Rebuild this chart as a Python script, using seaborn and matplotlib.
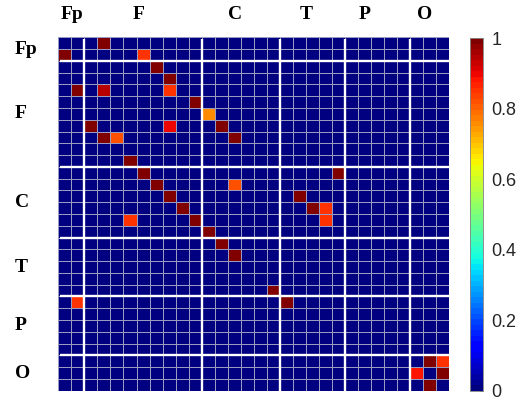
import numpy as np
import pandas as pd
import matplotlib
matplotlib.use("Agg")
import matplotlib.pyplot as plt
import seaborn as sns

# ---- data ----
groups = ["Fp", "F", "C", "T", "P", "O"]
group_sizes = [2, 9, 6, 5, 5, 3]
n = sum(group_sizes)

hot_rows = [0, 1, 1, 2, 3, 4, 4, 4, 5, 6, 7, 7, 7, 8, 8, 8, 10,
            11, 11, 12, 12, 13, 13, 14, 14, 14, 15, 15, 15, 16, 17, 18,
            21, 22, 22, 27, 27, 28, 28, 29]
hot_cols = [3, 0, 6, 7, 8, 1, 3, 8, 10, 11, 2, 8, 12, 3, 4, 13, 5,
            6, 21, 7, 13, 8, 18, 9, 19, 20, 5, 10, 20, 11, 12, 13,
            16, 1, 17, 28, 29, 27, 29, 28]
hot_vals = [1.0, 1.0, 0.845, 1.0, 1.0, 1.0, 0.95, 0.845, 1.0, 0.76, 1.0, 0.9, 1.0, 1.0, 0.815, 1.0, 1.0,
            1.0, 1.0, 1.0, 0.815, 1.0, 1.0, 1.0, 1.0, 0.845, 0.845, 1.0, 0.845, 1.0, 1.0, 1.0,
            1.0, 0.845, 1.0, 1.0, 0.845, 0.88, 1.0, 1.0]

cbar_ticks = [0, 0.2, 0.4, 0.6, 0.8, 1]
cbar_ticklabels = ["0", "0.2", "0.4", "0.6", "0.8", "1"]

M = np.zeros((n, n))
for r, c, v in zip(hot_rows, hot_cols, hot_vals):
    M[r, c] = v
df = pd.DataFrame(M)

# ---- figure ----
sns.set_style("white")
fig = plt.figure(figsize=(5.22, 4.03), dpi=100)
ax = fig.add_axes([58.3 / 522, 1 - 390.7 / 403, 391 / 522, 353.4 / 403])
cax = fig.add_axes([470.5 / 522, 1 - 390.7 / 403, 12.5 / 522, 352.5 / 403])

cmap = plt.get_cmap("jet", 64)
sns.heatmap(df, ax=ax, cmap=cmap, vmin=0, vmax=1, cbar_ax=cax,
            linewidths=0.6, linecolor="#9a9ac0",
            xticklabels=False, yticklabels=False, square=False)

# group separators
bounds = np.cumsum(group_sizes)[:-1]
for b in bounds:
    ax.plot([0.15, n], [b, b], color="white", lw=1.7, solid_capstyle="butt", clip_on=False)
    ax.plot([b, b], [0.15, n], color="white", lw=1.7, solid_capstyle="butt", clip_on=False)

ax.set_xlim(0, n)
ax.set_ylim(n, 0)
for s in ax.spines.values():
    s.set_visible(False)

# group labels
starts = np.concatenate([[0], np.cumsum(group_sizes)[:-1]])
centers = starts + np.array(group_sizes) / 2.0
top_x = [1.03, 6.19, 13.6, 19.05, 23.5, 28.1]
lab_font = dict(family="Liberation Serif", fontweight="bold", fontsize=14, color="black")
for g, x in zip(groups, top_x):
    ax.text(x, -1.9, g, ha="center", va="center", clip_on=False, **lab_font)
for g, y in zip(groups, centers):
    ax.text(-3.32, y, g, ha="left", va="center", clip_on=False, **lab_font)

# colorbar
cax.set_yticks(cbar_ticks)
cax.set_yticklabels(cbar_ticklabels)
cax.tick_params(axis="y", direction="in", length=3, width=0.6, colors="#262626",
                labelsize=13, pad=6, right=True, left=False)
for lab in cax.get_yticklabels():
    lab.set_fontfamily("Liberation Sans")
for s in cax.spines.values():
    s.set_visible(True)
    s.set_linewidth(0.5)
    s.set_color("#888888")
try:
    cax.collections[0].colorbar.outline.set_linewidth(0.5)
    cax.collections[0].colorbar.outline.set_edgecolor("#888888")
except Exception:
    pass

fig.savefig("out.png", dpi=100)
